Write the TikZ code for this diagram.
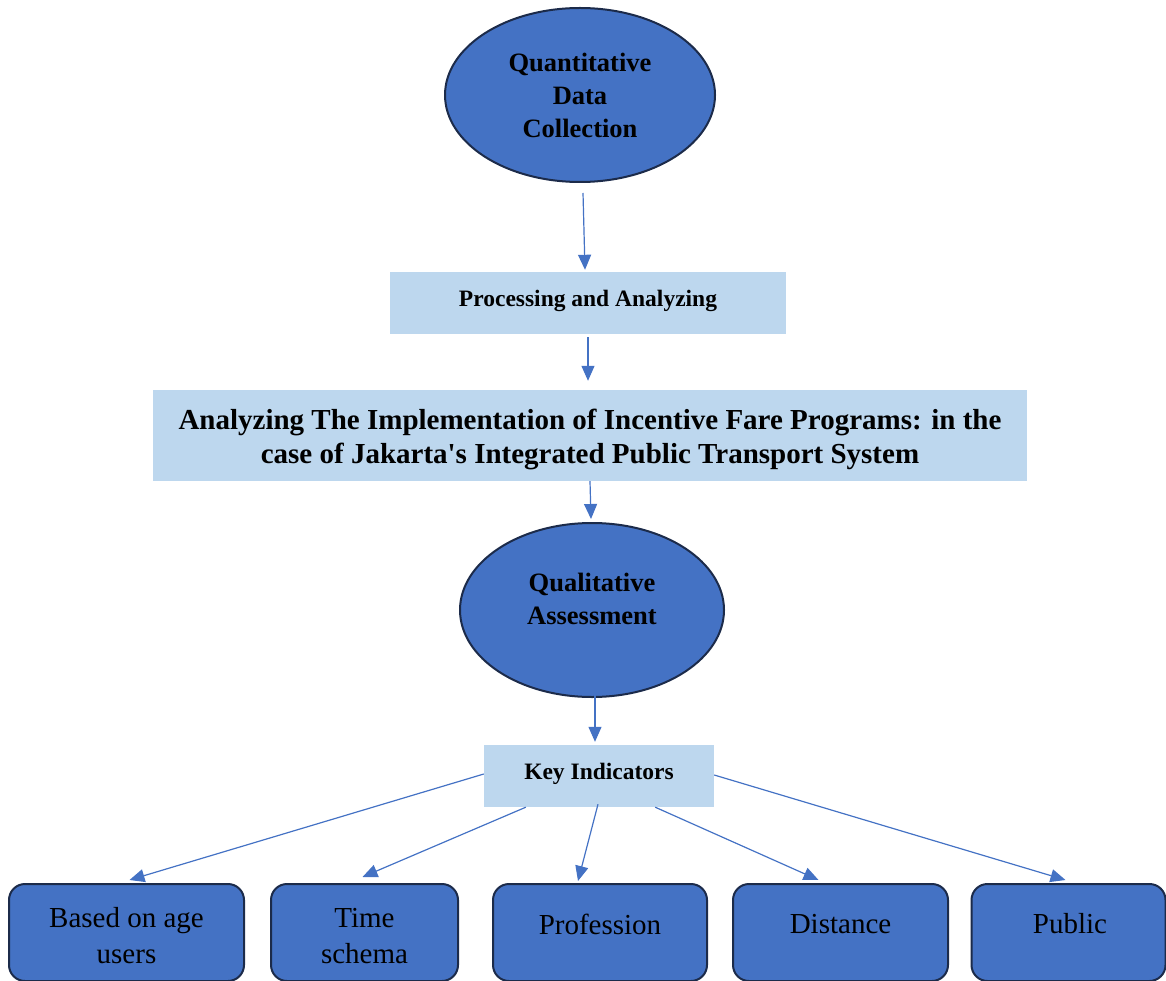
\documentclass[tikz,border=0pt]{standalone}
\usepackage{fontspec}
\setmainfont{Liberation Serif}
\usetikzlibrary{shapes.geometric,arrows.meta}
\definecolor{ublue}{HTML}{4472C4}
\definecolor{lblue}{HTML}{BDD7EE}
\definecolor{navy}{HTML}{1C2B4A}
\begin{document}
\begin{tikzpicture}[x=1pt,y=-1pt,
  oval/.style={ellipse,draw=navy,line width=2pt,fill=ublue,inner sep=0pt},
  band/.style={rectangle,fill=lblue,inner sep=0pt},
  leaf/.style={rectangle,draw=navy,line width=2pt,fill=ublue,rounded corners=16pt,inner sep=0pt,minimum height=97pt},
  arr/.style={draw=ublue,line width=1.2pt,-{Triangle[length=15pt,width=13pt]}},
  ovaltext/.style={align=center,inner sep=0pt,font=\fontsize{26.5}{33}\selectfont\bfseries},
  bandtext/.style={align=center,inner sep=0pt,font=\fontsize{23.5}{28}\selectfont\bfseries},
  titletext/.style={align=center,inner sep=0pt,font=\fontsize{29}{34}\selectfont\bfseries},
  leaftext/.style={align=center,inner sep=0pt,font=\fontsize{29}{36}\selectfont},
]
\useasboundingbox (0,0) rectangle (1166,981);

% top oval
\node[oval,minimum width=270pt,minimum height=174pt] (qd) at (580,95) {};
\node[ovaltext] (qdt) at (580,95.5) {Quantitative\\Data\\Collection};

% processing band
\node[band,minimum width=396pt,minimum height=62pt] (pa) at (588,303) {};
\node[bandtext] (pat) at (588,301) {Processing and Analyzing};

% title band
\node[band,minimum width=874pt,minimum height=91pt] (big) at (590,435.5) {};
\node[titletext] (bigt) at (590,439) {Analyzing The Implementation of Incentive Fare Programs: in the\\case of Jakarta\textquotesingle s Integrated Public Transport System};

% second oval
\node[oval,minimum width=264pt,minimum height=174pt] (qa) at (592,610) {};
\node[ovaltext] (qat) at (592,599) {Qualitative\\Assessment};

% key indicators band
\node[band,minimum width=230pt,minimum height=62pt] (ki) at (599,776) {};
\node[bandtext] (kit) at (599,774) {Key Indicators};

% indicator boxes
\node[leaf,minimum width=235pt] (ia) at (126.5,932.5) {};
\node[leaf,minimum width=187pt] (ib) at (364.5,932.5) {};
\node[leaf,minimum width=214pt] (ic) at (600,932.5) {};
\node[leaf,minimum width=215pt] (id) at (840.5,932.5) {};
\node[leaf,minimum width=194pt] (ie) at (1068.5,932.5) {};
\node[leaftext] (iat) at (126.5,936) {Based on age\\users};
\node[leaftext] (ibt) at (364.5,936) {Time\\schema};
\node[leaftext] (ict) at (600,924) {Profession};
\node[leaftext] (idt) at (840.5,924) {Distance};
\node[leaftext] (iet) at (1070,924) {Public};

% vertical flow
\draw[arr] ([shift={(3,10)}]qd.south) -- ([shift={(-3,-2)}]pa.north);
\draw[arr] ([yshift=-3pt]pa.south) -- ([shift={(-2,-9)}]big.north);
\draw[arr] (big.south) -- ([shift={(-1,-3)}]qa.north);
\draw[arr] ([shift={(3,-3)}]qa.south) -- ([shift={(-4,-3)}]ki.north);

% fan-out to indicators
\draw[arr] ([yshift=2pt]ki.west) -- ([shift={(3,-3)}]ia.north);
\draw[arr] ([xshift=42]ki.south west) -- ([shift={(-2,-6)}]ib.north);
\draw[arr] ([shift={(-1,-3)}]ki.south) -- ([shift={(-22,-2)}]ic.north);
\draw[arr] ([xshift=-59]ki.south east) -- ([shift={(-22,-3)}]id.north);
\draw[arr] ([yshift=1pt]ki.east) -- ([shift={(-3,-3)}]ie.north);
\end{tikzpicture}
\end{document}
